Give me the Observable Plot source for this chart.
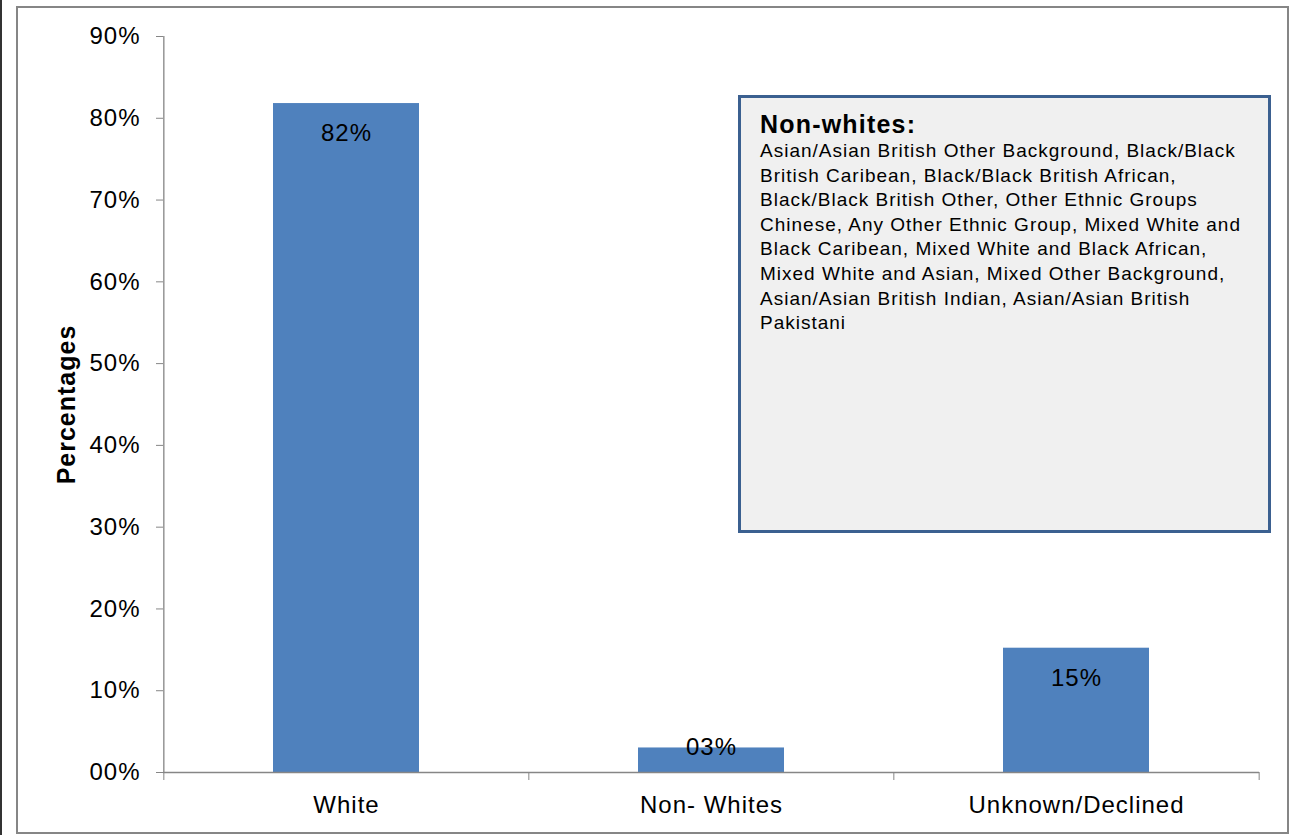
<!DOCTYPE html>
<html>
<head>
<meta charset="utf-8">
<script src="https://cdn.jsdelivr.net/npm/d3@7"></script>
<script src="https://cdn.jsdelivr.net/npm/@observablehq/plot@0.6"></script>
<style>
  html, body { margin: 0; padding: 0; background: #fff; }
  #wrap { position: relative; width: 1293px; height: 835px; overflow: hidden; font-family: "Liberation Sans", Arial, sans-serif; }
  #frame { position: absolute; left: 16px; top: 6px; width: 1273px; height: 828px; box-sizing: border-box; border: 2px solid #868686; pointer-events: none; }
  #edge { position: absolute; left: 0; top: 0; width: 2px; height: 835px; background: #333; }
  #note { position: absolute; left: 738px; top: 95px; width: 533px; height: 438px; box-sizing: border-box;
          border: 3px solid #3b6090; background: #f0f0f0; padding: 11px 0 0 19px; color: #000; }
  #note .t { font-weight: bold; font-size: 25px; line-height: 30px; letter-spacing: 1.2px; white-space: nowrap; }
  #note .b { font-size: 19px; line-height: 24.6px; letter-spacing: 1px; white-space: nowrap; }
  #chart { position: absolute; left: 0; top: 0; }
</style>
</head>
<body>
<div id="wrap">
  <div id="edge"></div>
  <div id="chart"></div>
  <div id="frame"></div>
  <div id="note"><div class="t"></div><div class="b"></div></div>
</div>
<script>
// ---- data ----
const categories = ["White", "Non- Whites", "Unknown/Declined"];
const values = [81.8, 3.0, 15.2];
const yTicks = [0, 10, 20, 30, 40, 50, 60, 70, 80, 90];
const yLabel = "Percentages";
const noteTitle = "Non-whites:";
const noteLines = [
  "Asian/Asian British Other Background, Black/Black",
  "British Caribean, Black/Black British African,",
  "Black/Black British Other, Other Ethnic Groups",
  "Chinese, Any Other Ethnic Group, Mixed White and",
  "Black Caribean, Mixed White and Black African,",
  "Mixed White and Asian, Mixed Other Background,",
  "Asian/Asian British Indian, Asian/Asian British",
  "Pakistani"
];

const data = categories.map((c, i) => ({category: c, value: values[i]}));
const pct = d => String(Math.round(d)).padStart(2, "0") + "%";

const W = 1293, H = 835, mL = 163, mR = 34, mT = 36, mB = 63;
const step = (W - mL - mR) / categories.length;
const grey = "#868686";
const none = () => "";

const chart = Plot.plot({
  width: W, height: H,
  marginLeft: mL, marginRight: mR, marginTop: mT, marginBottom: mB,
  style: {fontFamily: "'Liberation Sans', Arial, sans-serif", fontSize: "24px", color: "#000", background: "transparent", letterSpacing: "1px"},
  x: {domain: categories, paddingInner: 0.6, paddingOuter: 0.3},
  y: {domain: [0, 90]},
  marks: [
    Plot.barY(data, {x: "category", y: "value", fill: "#4f81bd"}),
    Plot.ruleY([0], {stroke: grey, strokeWidth: 1.3}),
    Plot.ruleX([categories[0]], {dx: -step / 2, stroke: grey, strokeWidth: 1.3}),
    Plot.axisX(categories, {tickSize: 8, tickFormat: none, dx: -step / 2, stroke: grey, label: null}),
    Plot.axisX([categories[categories.length - 1]], {tickSize: 8, tickFormat: none, dx: step / 2, stroke: grey, label: null}),
    Plot.axisX({tickSize: 0, tickPadding: 23, fontSize: 24, fill: "#000", label: null}),
    Plot.axisY({ticks: yTicks, tickFormat: pct, tickSize: 7, tickPadding: 16, stroke: grey, fill: "#000", fontSize: 24, label: null}),
    Plot.text(data.filter(d => d.value >= 10), {x: "category", y: "value", text: d => pct(d.value), lineAnchor: "middle", dy: 30, fontSize: 24, fill: "#000"}),
    Plot.text(data.filter(d => d.value < 10), {x: "category", y: "value", text: d => pct(d.value), lineAnchor: "middle", dy: -1, fontSize: 24, fill: "#000"}),
    Plot.text([yLabel], {frameAnchor: "left", text: d => d, rotate: -90, dx: -97, fontSize: 25, fontWeight: "bold", fill: "#000", textAnchor: "middle", lineAnchor: "middle"})
  ]
});
document.getElementById("chart").appendChild(chart);

document.querySelector("#note .t").textContent = noteTitle;
const body = document.querySelector("#note .b");
noteLines.forEach(l => { const d = document.createElement("div"); d.textContent = l; body.appendChild(d); });
</script>
</body>
</html>
